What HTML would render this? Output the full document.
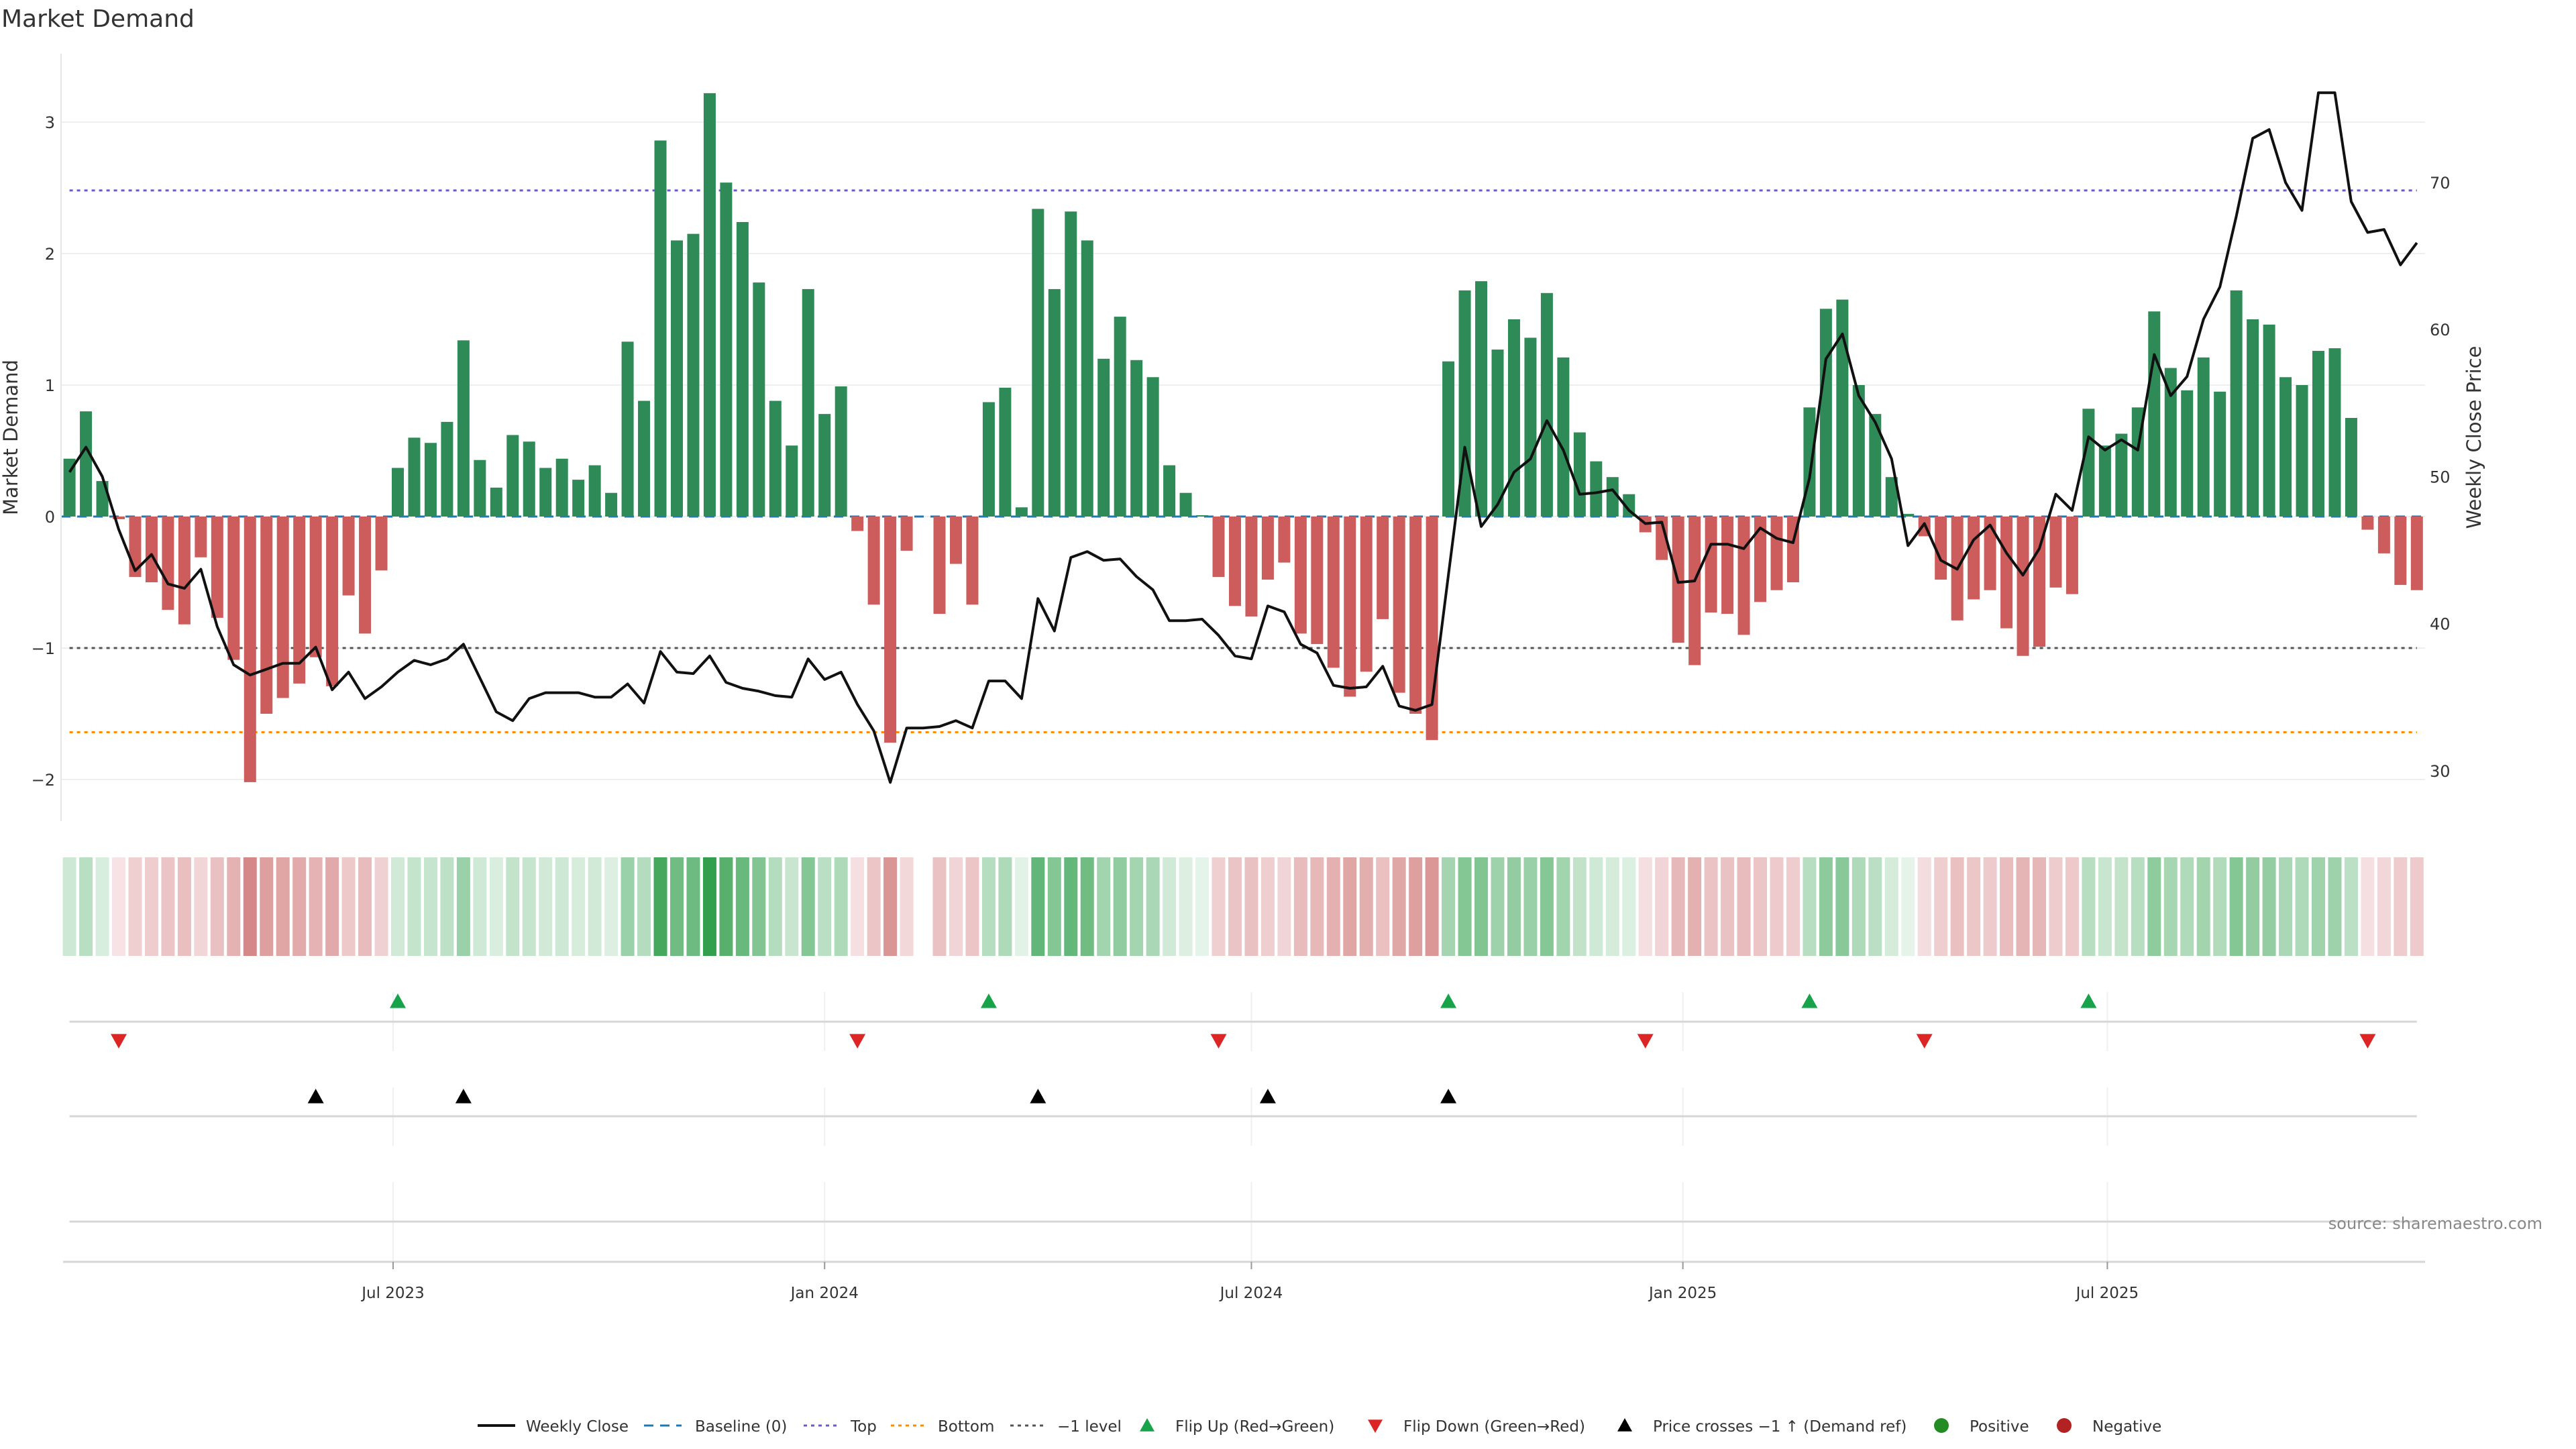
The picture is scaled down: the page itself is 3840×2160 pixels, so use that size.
<!DOCTYPE html>
<html><head><meta charset="utf-8"><style>
html,body{margin:0;padding:0;background:#fff;}
svg{display:block;font-family:"DejaVu Sans","Liberation Sans",sans-serif;}
</style></head><body>
<svg id="chart" width="3840" height="2160" viewBox="0 0 3840 2160" xmlns="http://www.w3.org/2000/svg">
<text x="2" y="40" font-size="36" fill="#333">Market Demand</text>
<g id="grid"></g>
<g id="refs"></g>
<g id="bars"></g>
<g id="line"></g>
<g id="axes"></g>
<g id="heat"></g>
<g id="events"></g>
<g id="xaxis"></g>
<text x="3790" y="1832" font-size="24" fill="#888" text-anchor="end">source: sharemaestro.com</text>
<g id="legend"></g>
</svg>
<script>
const demand = [0.44,0.80,0.27,-0.02,-0.46,-0.50,-0.71,-0.82,-0.31,-0.77,-1.09,-2.02,-1.50,-1.38,-1.27,-1.07,-1.29,-0.60,-0.89,-0.41,
0.37,0.60,0.56,0.72,1.34,0.43,0.22,0.62,0.57,0.37,0.44,0.28,0.39,0.18,1.33,0.88,2.86,2.10,2.15,3.22,
2.54,2.24,1.78,0.88,0.54,1.73,0.78,0.99,-0.11,-0.67,-1.72,-0.26,null,-0.74,-0.36,-0.67,0.87,0.98,0.07,2.34,
1.73,2.32,2.10,1.20,1.52,1.19,1.06,0.39,0.18,0.01,-0.46,-0.68,-0.76,-0.48,-0.35,-0.89,-0.97,-1.15,-1.37,-1.18,
-0.78,-1.34,-1.50,-1.70,1.18,1.72,1.79,1.27,1.50,1.36,1.70,1.21,0.64,0.42,0.30,0.17,-0.12,-0.33,-0.96,-1.13,
-0.73,-0.74,-0.90,-0.65,-0.56,-0.50,0.83,1.58,1.65,1.00,0.78,0.30,0.02,-0.15,-0.48,-0.79,-0.63,-0.56,-0.85,-1.06,
-0.99,-0.54,-0.59,0.82,0.54,0.63,0.83,1.56,1.13,0.96,1.21,0.95,1.72,1.50,1.46,1.06,1.00,1.26,1.28,0.75,
-0.10,-0.28,-0.52,-0.56];
const price = [50.3,52.0,50.0,46.4,43.6,44.7,42.7,42.4,43.7,39.8,37.2,36.5,36.9,37.3,37.3,38.4,35.5,36.7,34.9,35.7,
36.7,37.5,37.2,37.6,38.6,36.3,34.0,33.4,34.9,35.3,35.3,35.3,35.0,35.0,35.9,34.6,38.1,36.7,36.6,37.8,
36.0,35.6,35.4,35.1,35.0,37.6,36.2,36.7,34.5,32.7,29.2,32.9,32.9,33.0,33.4,32.9,36.1,36.1,34.9,41.7,
39.5,44.5,44.9,44.3,44.4,43.2,42.3,40.2,40.2,40.3,39.2,37.8,37.6,41.2,40.8,38.6,38.0,35.8,35.6,35.7,
37.1,34.4,34.1,34.5,43.3,52.0,46.6,48.1,50.3,51.2,53.8,51.8,48.8,48.9,49.1,47.7,46.8,46.9,42.8,42.9,
45.4,45.4,45.1,46.5,45.8,45.5,49.9,58.0,59.7,55.5,53.7,51.2,45.3,46.8,44.3,43.7,45.7,46.7,44.8,43.3,
45.1,48.8,47.7,52.7,51.8,52.5,51.8,58.3,55.5,56.8,60.7,62.9,67.7,73.0,73.6,70.0,68.1,76.1,76.1,68.7,
66.6,66.8,64.4,65.9];
const flipUp = [20,56,84,106,123];
const flipDown = [3,48,70,96,113,140];
const priceCross = [15,24,59,73,84];
const leftTicks = [-2,-1,0,1,2,3];
const rightTicks = [30,40,50,60,70];
const xTickLabels = ["Jul 2023","Jan 2024","Jul 2024","Jan 2025","Jul 2025"];
const xTickDays = [138,322,504,688,869];
const topLevel = 2.48, bottomLevel = -1.64, minusLevel = -1;

const NS="http://www.w3.org/2000/svg";
const X0=103.6, STEP=24.47, PL=91, PR=3615;
const xB=i=>X0+STEP*i;
const xD=d=>X0+d*STEP/7;
const yL=v=>770-v*196;
const yR=p=>272+(70-p)*21.92;
function mk(parent,tag,attrs){const e=document.createElementNS(NS,tag);for(const k in attrs)e.setAttribute(k,attrs[k]);document.getElementById(parent).appendChild(e);return e;}

leftTicks.forEach(v=>{
  const g=mk('grid','line',{x1:PL,x2:PR,y1:yL(v),y2:yL(v),stroke:'#edf0f2','stroke-width':2});
  
  
  const t=mk('axes','text',{x:82,y:yL(v)+9,'font-size':24,fill:'#333','text-anchor':'end'});
  t.textContent=(v<0?'\u2212'+(-v):String(v));
  
  
});
rightTicks.forEach(p=>{
  const t=mk('axes','text',{x:3622,y:yR(p)+9,'font-size':24,fill:'#333'});
  t.textContent=String(p);
  
  
});
let a=mk('axes','line',{x1:PL,x2:PL,y1:80,y2:1224,stroke:'#e6e6e6','stroke-width':2});


let yt=mk('axes','text',{x:0,y:0,'font-size':29,fill:'#333','text-anchor':'middle',transform:'translate(26,652) rotate(-90)'});
yt.textContent='Market Demand';


let yt2=mk('axes','text',{x:0,y:0,'font-size':29,fill:'#333','text-anchor':'middle',transform:'translate(3698,652) rotate(-90)'});
yt2.textContent='Weekly Close Price';



let bl=mk('refs','line',{x1:PL,x2:PR,y1:yL(0),y2:yL(0),stroke:'#1f77b4','stroke-width':3,'stroke-dasharray':'14 10'});


[[topLevel,'#6a5acd','top-level-line'],[bottomLevel,'#ff8c00','bottom-level-line'],[minusLevel,'#555','minus-one-level-line']].forEach(r=>{
  const l=mk('refs','line',{x1:xB(0),x2:xB(demand.length-1),y1:yL(r[0]),y2:yL(r[0]),stroke:r[1],'stroke-width':3,'stroke-dasharray':'5 6'});
  
  
});

const BW=18;
demand.forEach((v,i)=>{
  if(v===null) return;
  const y0=yL(0),y1=yL(v);
  const r=mk('bars','rect',{x:xB(i)-BW/2,y:Math.min(y0,y1),width:BW,height:Math.max(1,Math.abs(y1-y0)),fill:v>=0?'#2e8b57':'#cd5c5c'});
  
  
});

const pts=price.map((p,i)=>xB(i).toFixed(1)+','+yR(p).toFixed(1)).join(' ');
let pl=mk('line','polyline',{points:pts,fill:'none',stroke:'#111','stroke-width':4,'stroke-linejoin':'round'});



function lerp(c1,c2,t){return 'rgb('+c1.map((c,k)=>Math.round(c+(c2[k]-c)*t)).join(',')+')';}
demand.forEach((v,i)=>{
  if(v===null) return;
  const t=Math.min(1,Math.abs(v)/3.25);
  const col=v>=0?lerp([230,244,234],[47,158,74],t):lerp([247,228,230],[192,80,77],t);
  const c=mk('heat','rect',{x:xB(i)-10,y:1278,width:20,height:147,fill:col});
  
  
});

function vgrid(y1,y2){xTickDays.forEach(d=>{const l=mk('events','line',{x1:xD(d),x2:xD(d),y1:y1,y2:y2,stroke:'#eef0f2','stroke-width':2});});}
vgrid(1479,1567);vgrid(1621,1708);vgrid(1762,1880);
[1523,1664,1821].forEach(y=>{const l=mk('events','line',{x1:xB(0),x2:xB(demand.length-1),y1:y,y2:y,stroke:'#d6d6d6','stroke-width':3});});
function tri(x,y,up,col,name){const s=12;const p=up?`${x},${y-s} ${x-s},${y+s*0.8} ${x+s},${y+s*0.8}`:`${x},${y+s} ${x-s},${y-s*0.8} ${x+s},${y-s*0.8}`;const t=mk('events','polygon',{points:p,fill:col});}
flipUp.forEach(i=>tri(xB(i),1493,true,'#16a34a','flip-up-marker'));
flipDown.forEach(i=>tri(xB(i),1551,false,'#dc2626','flip-down-marker'));
priceCross.forEach(i=>tri(xB(i),1635,true,'#000','price-cross-marker'));

let xa=mk('xaxis','line',{x1:94,x2:3615,y1:1881,y2:1881,stroke:'#d6d6d6','stroke-width':3});


xTickLabels.forEach((lab,k)=>{
  const x=xD(xTickDays[k]);
  const tk=mk('xaxis','line',{x1:x,x2:x,y1:1881,y2:1892,stroke:'#999','stroke-width':2});
  
  
  const t=mk('xaxis','text',{x:x,y:1935,'font-size':23,fill:'#333','text-anchor':'middle'});
  t.textContent=lab;
  
  
});

const LY=2125;
function ltext(x,s){const t=mk('legend','text',{x:x,y:LY+9,'font-size':23,fill:'#333'});t.textContent=s;}
function lline(x1,x2,col,dash,w){const l=mk('legend','line',{x1:x1,x2:x2,y1:LY,y2:LY,stroke:col,'stroke-width':w,'stroke-dasharray':dash});}
lline(712,768,'#111','none',4);ltext(784,'Weekly Close');
lline(960,1016,'#1f77b4','14 10',3);ltext(1036,'Baseline (0)');
lline(1198,1250,'#6a5acd','5 6',3);ltext(1268,'Top');
lline(1328,1380,'#ff8c00','5 6',3);ltext(1398,'Bottom');
lline(1506,1558,'#555','5 6',3);ltext(1576,'\u22121 level');
function ltri(x,up,col){const s=11;const p=up?`${x},${LY-s} ${x-s},${LY+s*0.8} ${x+s},${LY+s*0.8}`:`${x},${LY+s} ${x-s},${LY-s*0.8} ${x+s},${LY-s*0.8}`;const t=mk('legend','polygon',{points:p,fill:col});}
ltri(1710,true,'#16a34a');ltext(1752,'Flip Up (Red\u2192Green)');
ltri(2050,false,'#dc2626');ltext(2092,'Flip Down (Green\u2192Red)');
ltri(2422,true,'#000');ltext(2464,'Price crosses \u22121 \u2191 (Demand ref)');
function lcirc(x,col){const c=mk('legend','circle',{cx:x,cy:LY,r:11,fill:col});}
lcirc(2894,'#228b22');ltext(2936,'Positive');
lcirc(3077,'#b22222');ltext(3119,'Negative');
</script>
</body></html>
